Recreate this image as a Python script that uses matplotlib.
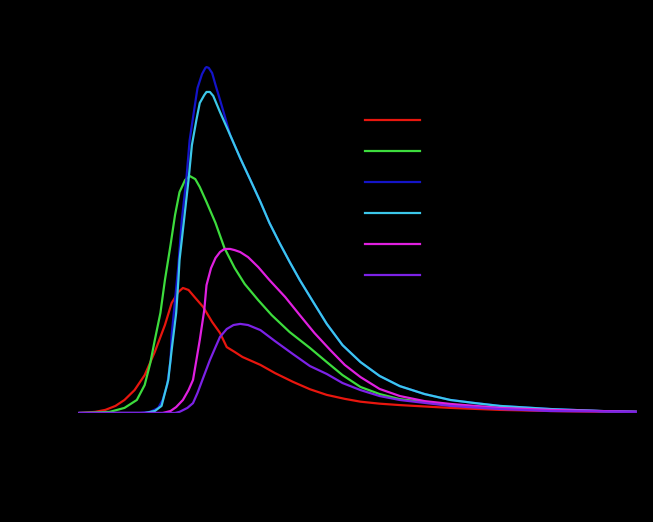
import matplotlib
matplotlib.use("Agg")
import matplotlib.pyplot as plt
from matplotlib.lines import Line2D

# curves (x: wavelength in nm, y: intensity)
red_x = [304, 318, 327, 336, 344, 353, 362, 371, 380, 386, 392, 396, 401, 407, 414, 422, 429,
         435, 442, 449, 465, 478, 494, 509, 524, 540, 554, 571, 589, 634, 678, 723, 767, 800]
red_y = [0, 4, 11, 25, 46, 81, 134, 216, 311, 389, 428, 442, 435, 407, 375, 322, 283,
         233, 216, 198, 170, 141, 110, 84, 64, 50, 40, 33, 28, 18, 11, 7, 4, 4]

green_x = [304, 331, 344, 355, 362, 367, 371, 376, 380, 385, 389, 393, 398, 402, 407, 411, 417,
           425, 433, 442, 451, 463, 475, 491, 509, 524, 538, 554, 571, 589, 634, 678, 723, 800]
green_y = [0, 4, 18, 46, 99, 177, 258, 354, 470, 594, 700, 781, 824, 838, 827, 799, 746,
           672, 583, 513, 456, 399, 346, 286, 230, 180, 134, 92, 67, 49, 28, 18, 11, 4]

blue_x = [304, 358, 367, 374, 378, 382, 385, 386, 389, 392, 395, 399, 402, 406, 409, 413, 416,
          417, 419, 422, 425, 429, 433, 438, 447, 456, 465, 473, 482, 491, 500, 512, 524, 538,
          554, 571, 589, 611, 634, 656, 678, 723, 767, 800]
blue_y = [0, 0, 4, 18, 46, 99, 187, 276, 399, 523, 682, 824, 965, 1071, 1149, 1198, 1220,
          1223, 1220, 1202, 1160, 1107, 1053, 983, 901, 824, 746, 672, 601, 534, 470, 392, 315, 240,
          180, 131, 95, 67, 46, 35, 25, 14, 7, 4]

cyan_x = [304, 362, 371, 377, 383, 386, 390, 392, 393, 397, 401, 404, 408, 411, 415, 417, 420,
          423, 429, 438, 447, 456, 465, 473, 482, 491, 500, 512, 524, 538, 554, 571, 589, 611,
          634, 656, 678, 723, 767, 800]
cyan_y = [0, 0, 7, 25, 117, 223, 354, 470, 541, 682, 824, 947, 1036, 1096, 1124, 1135, 1135,
          1121, 1064, 983, 901, 824, 746, 672, 601, 534, 470, 392, 315, 240, 180, 131, 95, 67,
          46, 35, 25, 14, 7, 4]

magenta_x = [304, 378, 385, 390, 396, 401, 405, 408, 411, 415, 417, 421, 425, 429, 433, 438, 442,
             447, 454, 463, 473, 487, 500, 513, 527, 540, 554, 571, 589, 611, 634, 678, 723, 800]
magenta_y = [0, 0, 7, 21, 46, 81, 117, 187, 258, 364, 452, 512, 548, 569, 580, 580, 576,
             569, 551, 516, 470, 410, 346, 283, 223, 170, 127, 85, 60, 42, 32, 18, 11, 4]

purple_x = [304, 389, 393, 400, 405, 409, 414, 420, 425, 429, 435, 441, 447, 454, 465, 478, 494,
            509, 524, 538, 554, 571, 589, 634, 678, 723, 800]
purple_y = [0, 0, 4, 18, 35, 71, 124, 187, 233, 269, 297, 311, 315, 311, 293, 254, 208,
            166, 138, 106, 81, 60, 46, 25, 14, 7, 4]

labels = ["1.2×10$^{3}$ V", "1.4×10$^{3}$ V", "1.6×10$^{3}$ V", "1.8×10$^{3}$ V",
          "2.0×10$^{3}$ V", "2.2×10$^{3}$ V", "2.4×10$^{3}$ V"]
x_ticks = [300, 400, 500, 600, 700, 800]
y_ticks = [0, 200, 400, 600, 800, 1000, 1200, 1400]

series = [
    (red_x, red_y, "#e8160e"),
    (green_x, green_y, "#3ddc3d"),
    (blue_x, blue_y, "#1414c8"),
    (cyan_x, cyan_y, "#3cc8ea"),
    (magenta_x, magenta_y, "#e020e0"),
    (purple_x, purple_y, "#7c22e6"),
]

fig = plt.figure(figsize=(6.53, 5.22), dpi=100, facecolor="black")
ax = fig.add_axes([75 / 653, 1 - 413 / 522, 562 / 653, 396 / 522])
ax.set_facecolor("black")

# first legend entry is a black trace (not visible on the black background)
handles = [Line2D([], [], color="black", lw=1.6)]
for xs, ys, c in series:
    ln, = ax.plot(xs, ys, color=c, lw=1.6, solid_joinstyle="round")
    handles.append(ln)

ax.set_xlim(300, 800)
ax.set_ylim(0, 1400)
ax.set_xticks(x_ticks)
ax.set_yticks(y_ticks)
ax.tick_params(colors="black", labelsize=11)
for s in ax.spines.values():
    s.set_color("black")
ax.set_xlabel("Wavelength, λ (nm)", color="black", fontsize=13, labelpad=18)
ax.set_ylabel("Intensity (a.u.)", color="black", fontsize=13)

fig.legend(handles, labels, loc="upper left", bbox_to_anchor=(356 / 653, 1 - 70 / 522),
           frameon=False, fontsize=13, handlelength=3.05, labelspacing=0.61,
           labelcolor="black", borderpad=0, handletextpad=0.6)

fig.savefig("out.png", dpi=100, facecolor="black")
